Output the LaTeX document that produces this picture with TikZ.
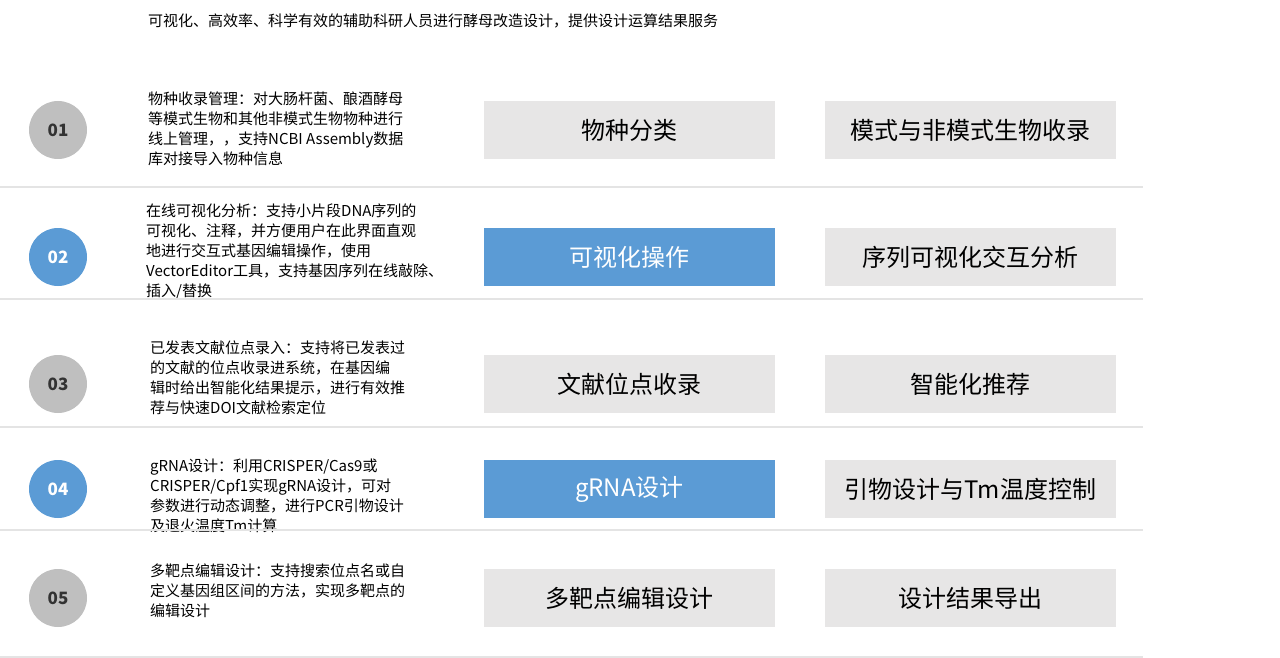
\documentclass[tikz,border=0pt]{standalone}
\usepackage{fontspec}
\setmainfont{Noto Sans CJK SC}
\definecolor{boxgray}{HTML}{E7E6E6}
\definecolor{dotgray}{HTML}{BFBFBF}
\definecolor{dotblue}{HTML}{5B9BD5}
\definecolor{rulegray}{HTML}{E4E4E4}
\tikzset{
  num/.style={circle,minimum size=58pt,inner sep=0pt,fill=dotgray,text=black!80,font=\fontsize{17}{20}\selectfont\bfseries},
  numhi/.style={num,fill=dotblue,text=white},
  item/.style={rectangle,minimum width=291pt,minimum height=58pt,inner sep=0pt,fill=boxgray,text=black,font=\fontsize{24}{28}\selectfont},
  itemhi/.style={item,fill=dotblue,text=white},
  desc/.style={anchor=north west,align=left,inner sep=0pt,font=\fontsize{15}{20}\selectfont},
  sep/.style={draw=rulegray,line width=1.2pt}
}
\begin{document}
\begin{tikzpicture}[x=1pt,y=-1pt]
\useasboundingbox (0,0) rectangle (1280,658);
\node[desc,anchor=west] (title) at (148,21) {可视化、高效率、科学有效的辅助科研人员进行酵母改造设计，提供设计运算结果服务};
% rows
\node[num] (n1) at (58,130) {01};
\node[desc] (d1) at (148,92) {物种收录管理：对大肠杆菌、酿酒酵母\\等模式生物和其他非模式生物物种进行\\线上管理，，支持NCBI Assembly数据\\库对接导入物种信息};
\node[item] (a1) at (629.5,130) {物种分类};
\node[item] (b1) at (970.5,130) {模式与非模式生物收录};

\node[numhi] (n2) at (58,257) {02};
\node[desc] (d2) at (146,204) {在线可视化分析：支持小片段DNA序列的\\可视化、注释，并方便用户在此界面直观\\地进行交互式基因编辑操作，使用\\VectorEditor工具，支持基因序列在线敲除、\\插入/替换};
\node[itemhi] (a2) at (629.5,257) {可视化操作};
\node[item] (b2) at (970.5,257) {序列可视化交互分析};

\node[num] (n3) at (58,384) {03};
\node[desc] (d3) at (150,341) {已发表文献位点录入：支持将已发表过\\的文献的位点收录进系统，在基因编\\辑时给出智能化结果提示，进行有效推\\荐与快速DOI文献检索定位};
\node[item] (a3) at (629.5,384) {文献位点收录};
\node[item] (b3) at (970.5,384) {智能化推荐};

\node[numhi] (n4) at (58,489) {04};
\node[desc] (d4) at (150,459) {gRNA设计：利用CRISPER/Cas9或\\CRISPER/Cpf1实现gRNA设计，可对\\参数进行动态调整，进行PCR引物设计\\及退火温度Tm计算};
\node[itemhi] (a4) at (629.5,489) {gRNA设计};
\node[item] (b4) at (970.5,489) {引物设计与Tm温度控制};

\node[num] (n5) at (58,598) {05};
\node[desc] (d5) at (150,564) {多靶点编辑设计：支持搜索位点名或自\\定义基因组区间的方法，实现多靶点的\\编辑设计};
\node[item] (a5) at (629.5,598) {多靶点编辑设计};
\node[item] (b5) at (970.5,598) {设计结果导出};
% separators
\foreach \y in {187,299,427,530,657}
  \draw[sep] (0,\y) -- (1143,\y);
\end{tikzpicture}
\end{document}
